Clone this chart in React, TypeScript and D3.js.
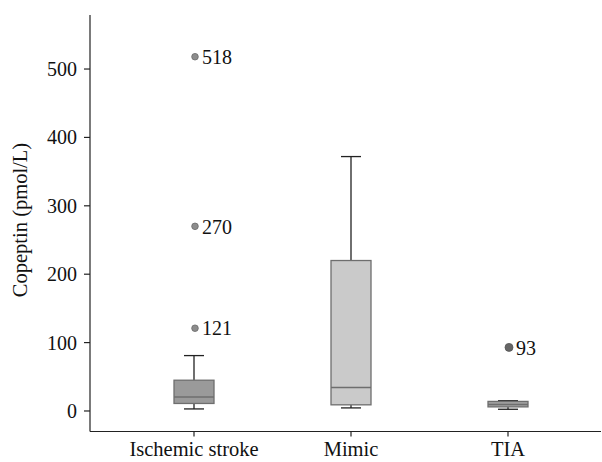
import React from "react";
import * as d3 from "d3";

const categories = ["Ischemic stroke", "Mimic", "TIA"];
const whiskerLow = [3, 4.5, 2.5];
const q1 = [11, 9, 6];
const medians = [20.5, 34.5, 9.5];
const q3 = [45, 220, 14];
const whiskerHigh = [81, 372, 15];
const boxFills = ["#9a9a9a", "#cacaca", "#a0a0a0"];
const outlierGroup = ["Ischemic stroke", "Ischemic stroke", "Ischemic stroke", "TIA"];
const outlierValues = [518, 270, 121, 93];
const yTicks = [0, 100, 200, 300, 400, 500];

const W = 602;
const H = 462;

export default function App() {
  const y = d3.scaleLinear().domain([-30, 579]).range([431.5, 15]);
  const x = d3.scalePoint().domain(categories).range([194, 508]);
  const axisX = 90;
  const axisY = y(-30);
  const boxHalf = 20;
  const capHalf = 10;
  const font = "'Liberation Serif', 'DejaVu Serif', serif";

  return (
    <svg width={W} height={H} style={{ position: "absolute", left: 0, top: 0 }} fontFamily={font}>
      <rect width={W} height={H} fill="#fff" />
      {/* y axis */}
      <line x1={axisX} x2={axisX} y1={15} y2={axisY} stroke="#222" strokeWidth={1.2} />
      {yTicks.map((t) => (
        <g key={t}>
          <line x1={axisX - 6} x2={axisX} y1={y(t)} y2={y(t)} stroke="#222" strokeWidth={1.2} />
          <text x={axisX - 13} y={y(t)} dy="0.35em" textAnchor="end" fontSize={20} fill="#111">
            {t}
          </text>
        </g>
      ))}
      <text
        transform={`translate(27,220) rotate(-90)`}
        textAnchor="middle"
        fontSize={20.5}
        fill="#111"
      >
        Copeptin (pmol/L)
      </text>
      {/* x axis */}
      <line x1={axisX} x2={601} y1={axisY} y2={axisY} stroke="#222" strokeWidth={1.2} />
      {categories.map((c) => (
        <g key={c}>
          <line x1={x(c)} x2={x(c)} y1={axisY} y2={axisY + 5} stroke="#222" strokeWidth={1.2} />
          <text x={x(c)} y={456} textAnchor="middle" fontSize={20.5} fill="#111">
            {c}
          </text>
        </g>
      ))}
      {/* boxes */}
      {categories.map((c, i) => {
        const cx = x(c) as number;
        return (
          <g key={c}>
            <line x1={cx} x2={cx} y1={y(whiskerHigh[i])} y2={y(q3[i])} stroke="#222" strokeWidth={1.3} />
            <line x1={cx} x2={cx} y1={y(q1[i])} y2={y(whiskerLow[i])} stroke="#222" strokeWidth={1.3} />
            <line x1={cx - capHalf} x2={cx + capHalf} y1={y(whiskerHigh[i])} y2={y(whiskerHigh[i])} stroke="#222" strokeWidth={1.3} />
            <line x1={cx - capHalf} x2={cx + capHalf} y1={y(whiskerLow[i])} y2={y(whiskerLow[i])} stroke="#222" strokeWidth={1.3} />
            <rect
              x={cx - boxHalf}
              y={y(q3[i])}
              width={boxHalf * 2}
              height={y(q1[i]) - y(q3[i])}
              fill={boxFills[i]}
              stroke="#6e6e6e"
              strokeWidth={1.3}
            />
            <line x1={cx - boxHalf} x2={cx + boxHalf} y1={y(medians[i])} y2={y(medians[i])} stroke="#6e6e6e" strokeWidth={1.5} />
          </g>
        );
      })}
      {/* outliers */}
      {outlierValues.map((v, i) => {
        const cx = x(outlierGroup[i]) as number;
        const isTia = outlierGroup[i] === "TIA";
        return (
          <g key={i}>
            <circle
              cx={cx + 1}
              cy={y(v)}
              r={isTia ? 4 : 3.3}
              fill={isTia ? "#666" : "#8c8c8c"}
              stroke={isTia ? "#555" : "#6a6a6a"}
              strokeWidth={0.8}
            />
            <text x={cx + 8} y={y(v)} dy="0.36em" fontSize={20} fill="#111">
              {v}
            </text>
          </g>
        );
      })}
    </svg>
  );
}
